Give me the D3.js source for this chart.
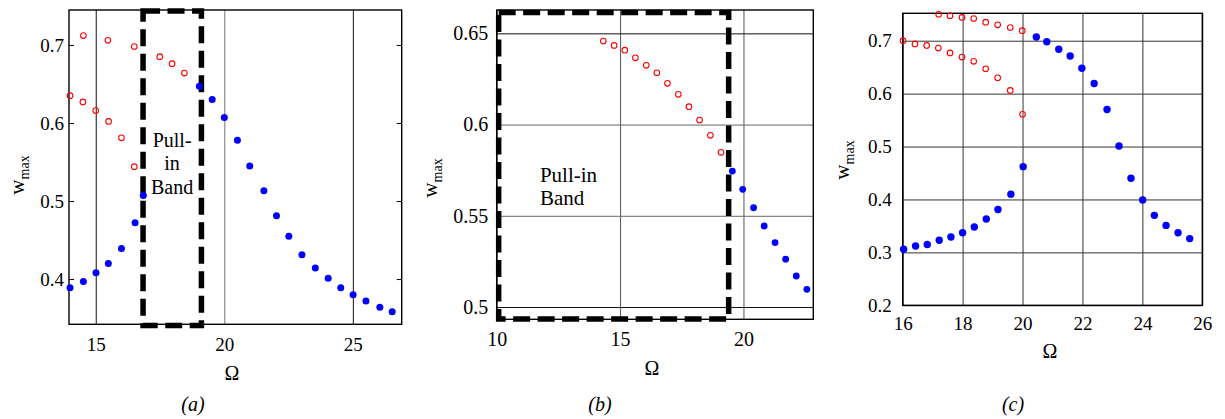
<!DOCTYPE html>
<html><head><meta charset="utf-8">
<script src="https://cdn.jsdelivr.net/npm/d3@7"></script>
<style>
html,body{margin:0;padding:0;background:#fff;}
svg{display:block;}
</style></head>
<body><svg id="chart" width="1225" height="419"></svg>
<script>
// ---------- Data ----------
// Panel (a)
const aXTicks = [15, 20, 25];
const aYTicks = [0.4, 0.5, 0.6, 0.7];
const aRedUpperX = [14.52, 15.47, 16.5, 17.49, 17.97, 18.45];
const aRedUpperY = [0.712, 0.706, 0.698, 0.685, 0.676, 0.664];
const aRedLowerX = [14.0, 14.5, 15.0, 15.5, 16.0, 16.5];
const aRedLowerY = [0.635, 0.627, 0.616, 0.602, 0.581, 0.544];
const aBlueX = [14.0, 14.52, 15.01, 15.49, 16.0, 16.53, 16.85, 19.03, 19.53, 20.0, 20.51, 20.99, 21.54, 22.03, 22.51, 23.02, 23.54, 24.04, 24.53, 25.01, 25.51, 26.05, 26.53];
const aBlueY = [0.389, 0.397, 0.408, 0.420, 0.439, 0.472, 0.507, 0.647, 0.630, 0.607, 0.578, 0.545, 0.513, 0.481, 0.455, 0.431, 0.414, 0.401, 0.389, 0.380, 0.372, 0.364, 0.358];
const aBand = [16.84, 19.11, 0.3405, 0.7435];
const aBandText = ["Pull-", "in", "Band"];

// Panel (b)
const bXTicks = [10, 15, 20];
const bYTicks = [0.5, 0.55, 0.6, 0.65];
const bYTickLabels = ["0.5", "0.55", "0.6", "0.65"];
const bRedX = [14.32, 14.76, 15.19, 15.62, 16.06, 16.49, 16.92, 17.36, 17.79, 18.22, 18.66, 19.09];
const bRedY = [0.6458, 0.6434, 0.6408, 0.6366, 0.6325, 0.6284, 0.6226, 0.6166, 0.6098, 0.6025, 0.5941, 0.5848];
const bBlueX = [19.55, 19.97, 20.41, 20.84, 21.28, 21.71, 22.14, 22.57];
const bBlueY = [0.5745, 0.5645, 0.5544, 0.5444, 0.5353, 0.5262, 0.5170, 0.5097];
const bBand = [10.08, 19.40, 0.4934, 0.6614];
const bBandText = ["Pull-in", "Band"];

// Panel (c)
const cXTicks = [16, 18, 20, 22, 24, 26];
const cYTicks = [0.2, 0.3, 0.4, 0.5, 0.6, 0.7];
const cRedUpperX = [17.2, 17.58, 17.98, 18.37, 18.77, 19.17, 19.59, 19.99];
const cRedUpperY = [0.750, 0.747, 0.744, 0.742, 0.735, 0.730, 0.725, 0.719];
const cRedLowerX = [16.01, 16.41, 16.8, 17.19, 17.58, 17.98, 18.37, 18.77, 19.17, 19.59, 20.0];
const cRedLowerY = [0.700, 0.694, 0.691, 0.686, 0.677, 0.669, 0.661, 0.647, 0.630, 0.606, 0.561];
const cBlueLowerX = [16.03, 16.43, 16.82, 17.22, 17.61, 18.0, 18.39, 18.79, 19.18, 19.61, 20.02];
const cBlueLowerY = [0.306, 0.312, 0.315, 0.323, 0.329, 0.337, 0.348, 0.363, 0.381, 0.410, 0.462];
const cBlueUpperX = [20.46, 20.81, 21.21, 21.59, 21.98, 22.39, 22.82, 23.22, 23.62, 24.01, 24.4, 24.79, 25.19, 25.58];
const cBlueUpperY = [0.707, 0.698, 0.684, 0.671, 0.648, 0.619, 0.570, 0.501, 0.440, 0.399, 0.370, 0.351, 0.337, 0.326];

// ---------- Font warm-up (forces the system serif font to be loaded) ----------
const FONT = '"Liberation Serif"';
(function warm() {
  const ctx = document.createElement("canvas").getContext("2d");
  ["", "italic "].forEach(st => [14, 19, 20, 21, 40].forEach(sz => {
    ctx.font = `${st}${sz}px "Liberation Serif", monospace`;
    ctx.measureText("Pull-in Band 0.123456789 wmax Ω (abc)");
  }));
})();

// ---------- Drawing ----------
const svg = d3.select("#chart");
const RED = "#ff0000", BLUE = "#0000ff";
const zip = (xs, ys) => xs.map((x, i) => [x, ys[i]]);

function panel(cfg) {
  const g = svg.append("g");
  const x = d3.scaleLinear().domain(cfg.xDomain).range([cfg.left, cfg.right]);
  const y = d3.scaleLinear().domain(cfg.yDomain).range([cfg.bottom, cfg.top]);
  const h = cfg.bottom - cfg.top, w = cfg.right - cfg.left;

  // vertical grid
  const gx = g.append("g").attr("transform", `translate(0,${cfg.bottom})`)
    .call(d3.axisBottom(x).tickValues(cfg.xTicks).tickSize(-h).tickFormat(""));
  gx.select(".domain").remove();
  gx.selectAll("line").attr("stroke", d => cfg.vGridColor(d)).attr("stroke-width", 1);
  if (cfg.hGrid) {
    const gy = g.append("g").attr("transform", `translate(${cfg.left},0)`)
      .call(d3.axisLeft(y).tickValues(cfg.yTicks).tickSize(-w).tickFormat(""));
    gy.select(".domain").remove();
    gy.selectAll("line").attr("stroke", d => cfg.hGridColor(d)).attr("stroke-width", 1);
  } else {
    const tl = g.append("g").attr("transform", `translate(${cfg.left},0)`)
      .call(d3.axisLeft(y).tickValues(cfg.yTicks).tickSize(-5).tickFormat(""));
    tl.select(".domain").remove();
    tl.selectAll("line").attr("stroke", "#000");
    const tr = g.append("g").attr("transform", `translate(${cfg.right},0)`)
      .call(d3.axisRight(y).tickValues(cfg.yTicks).tickSize(-5).tickFormat(""));
    tr.select(".domain").remove();
    tr.selectAll("line").attr("stroke", "#000");
  }

  // tick labels
  const ax = g.append("g").attr("transform", `translate(0,${cfg.bottom})`)
    .call(d3.axisBottom(x).tickValues(cfg.xTicks).tickSize(0).tickPadding(cfg.xPad).tickFormat(d3.format("d")));
  ax.select(".domain").remove();
  ax.attr("font-family", FONT).attr("font-size", cfg.fs);
  ax.selectAll("text").attr("font-family", FONT).attr("font-size", cfg.fs).attr("fill", "#000");
  const ay = g.append("g").attr("transform", `translate(${cfg.left},0)`)
    .call(d3.axisLeft(y).tickValues(cfg.yTicks).tickSize(0).tickPadding(cfg.yPad)
      .tickFormat((d, i) => cfg.yLabels ? cfg.yLabels[i] : String(d)));
  ay.select(".domain").remove();
  ay.attr("font-family", FONT).attr("font-size", cfg.fs);
  ay.selectAll("text").attr("font-family", FONT).attr("font-size", cfg.fs).attr("fill", "#000");

  // border
  g.append("rect").attr("x", cfg.left).attr("y", cfg.top).attr("width", w).attr("height", h)
    .attr("fill", "none").attr("stroke", "#000").attr("stroke-width", 1.4);

  // pull-in band box
  if (cfg.band) {
    const [bx0, bx1, by0, by1] = cfg.band;
    g.append("rect").attr("x", x(bx0)).attr("y", y(by1))
      .attr("width", x(bx1) - x(bx0)).attr("height", y(by0) - y(by1))
      .attr("fill", "none").attr("stroke", "#000").attr("stroke-width", 5.5)
      .attr("stroke-dasharray", "17,7.5");
  }

  // series
  (cfg.open || []).forEach(s => {
    g.append("g").selectAll("circle").data(s).join("circle")
      .attr("cx", d => x(d[0])).attr("cy", d => y(d[1])).attr("r", cfg.rOpen)
      .attr("fill", "none").attr("stroke", RED).attr("stroke-width", 1.1);
  });
  (cfg.filled || []).forEach(s => {
    g.append("g").selectAll("circle").data(s).join("circle")
      .attr("cx", d => x(d[0])).attr("cy", d => y(d[1])).attr("r", cfg.rFill)
      .attr("fill", BLUE);
  });

  // band text
  if (cfg.bandText) {
    const t = g.append("text").attr("font-family", FONT).attr("font-size", cfg.bandFs).attr("text-anchor", cfg.bandAnchor)
      .attr("x", x(cfg.bandTextPos[0])).attr("y", y(cfg.bandTextPos[1]));
    cfg.bandText.forEach((s, i) => t.append("tspan").attr("font-family", FONT).attr("x", x(cfg.bandTextPos[0]))
      .attr("dy", i === 0 ? 0 : cfg.bandLine).text(s));
  }

  // axis titles
  g.append("text").attr("font-family", FONT).attr("x", cfg.omega[0]).attr("y", cfg.omega[1]).attr("text-anchor", "middle")
    .attr("font-size", 20).text("Ω");
  const yl = g.append("text").attr("font-family", FONT).attr("transform", `translate(${cfg.wlab[0]},${cfg.wlab[1]}) rotate(-90)`)
    .attr("text-anchor", "middle").attr("font-size", 21);
  yl.append("tspan").attr("font-family", FONT).text("w");
  yl.append("tspan").attr("font-family", FONT).attr("font-size", 14).attr("dy", 5).text("max");
  g.append("text").attr("font-family", FONT).attr("x", cfg.cap[0]).attr("y", cfg.cap[1]).attr("text-anchor", "middle")
    .attr("font-size", 20).attr("font-style", "italic").text(cfg.capText);
}

panel({
  left: 69, right: 401.7, top: 10, bottom: 324.3,
  xDomain: [13.96, 26.9], yDomain: [0.342, 0.7448],
  xTicks: aXTicks, yTicks: aYTicks, fs: 19, xPad: 13, yPad: 5,
  vGridColor: d => d === 20 ? "#777" : "#111",
  hGrid: false,
  band: aBand, bandText: aBandText, bandTextPos: [17.97, 0.5698], bandFs: 20, bandLine: 23.8, bandAnchor: "middle",
  open: [zip(aRedUpperX, aRedUpperY), zip(aRedLowerX, aRedLowerY)],
  filled: [zip(aBlueX, aBlueY)], rOpen: 2.8, rFill: 3.5,
  omega: [232, 380], wlab: [24, 175], cap: [193, 411], capText: "(a)"
});

panel({
  left: 496.7, right: 813.3, top: 10, bottom: 319.3,
  xDomain: [10, 22.83], yDomain: [0.49326, 0.6628],
  xTicks: bXTicks, yTicks: bYTicks, yLabels: bYTickLabels, fs: 20, xPad: 13, yPad: 8.4,
  vGridColor: d => "#555",
  hGrid: true, hGridColor: d => (d === 0.5 || d === 0.65) ? "#111" : "#666",
  band: bBand, bandText: bBandText, bandTextPos: [11.75, 0.5687], bandFs: 21, bandLine: 23.3, bandAnchor: "start",
  open: [zip(bRedX, bRedY)],
  filled: [zip(bBlueX, bBlueY)], rOpen: 2.8, rFill: 3.4,
  omega: [652, 375], wlab: [437, 178], cap: [600, 411], capText: "(b)"
});

panel({
  left: 902.7, right: 1202.3, top: 13.3, bottom: 305.3,
  xDomain: [16, 26], yDomain: [0.2, 0.7518],
  xTicks: cXTicks, yTicks: cYTicks, fs: 19, xPad: 11, yPad: 11,
  vGridColor: d => "#333",
  hGrid: true, hGridColor: d => "#333",
  open: [zip(cRedUpperX, cRedUpperY), zip(cRedLowerX, cRedLowerY)],
  filled: [zip(cBlueLowerX, cBlueLowerY), zip(cBlueUpperX, cBlueUpperY)], rOpen: 2.8, rFill: 3.7,
  omega: [1050, 358], wlab: [849, 160], cap: [1013, 411], capText: "(c)"
});
</script></body></html>
